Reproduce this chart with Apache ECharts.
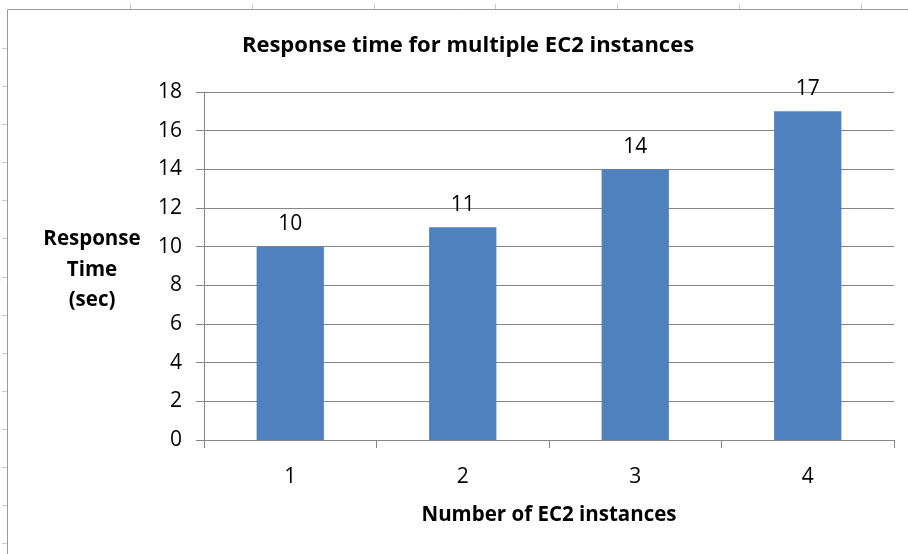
<!DOCTYPE html>
<html>
<head>
<meta charset="utf-8">
<script src="https://cdn.jsdelivr.net/npm/echarts@6/dist/echarts.min.js"></script>
<style>html,body{margin:0;padding:0;background:#fff}#c{width:908px;height:554px}</style>
</head>
<body>
<div id="c"></div>
<script>
var categories = ['1', '2', '3', '4'];
var responseTimes = [10, 11, 14, 17];
var yTicks = [0, 2, 4, 6, 8, 10, 12, 14, 16, 18];

var FONT = '"Open Sans", Lato, sans-serif';
var chart = echarts.init(document.getElementById('c'), null, {renderer: 'canvas'});

var frame = [];
frame.push({type: 'line', shape: {x1: 7.5, y1: 9.5, x2: 908, y2: 9.5}, style: {stroke: '#9a9a9a', lineWidth: 1}, silent: true});
frame.push({type: 'line', shape: {x1: 7.5, y1: 9.5, x2: 7.5, y2: 554}, style: {stroke: '#9a9a9a', lineWidth: 1}, silent: true});
[130, 252, 374, 495, 617, 739, 861].forEach(function (x) {
  frame.push({type: 'line', shape: {x1: x + 0.5, y1: 4, x2: x + 0.5, y2: 9}, style: {stroke: '#c8c8c8', lineWidth: 1}, silent: true});
});
for (var y = 48; y < 554; y += 38.1) {
  frame.push({type: 'line', shape: {x1: 2, y1: Math.round(y) + 0.5, x2: 7, y2: Math.round(y) + 0.5}, style: {stroke: '#c8c8c8', lineWidth: 1}, silent: true});
}

chart.setOption({
  animation: false,
  backgroundColor: '#ffffff',
  title: {
    text: 'Response time for multiple EC2 instances',
    left: 463, top: 30, textAlign: 'center',
    textStyle: {fontFamily: FONT, fontSize: 22, fontWeight: 'bold', color: '#000'}
  },
  grid: {left: 204, right: 14, top: 92, bottom: 114},
  xAxis: {
    type: 'category',
    data: categories,
    name: 'Number of EC2 instances',
    nameLocation: 'middle',
    nameGap: 65,
    nameTextStyle: {fontFamily: FONT, fontSize: 20.5, fontWeight: 'bold', color: '#000'},
    axisLine: {lineStyle: {color: '#868686', width: 1}},
    axisTick: {show: true, length: 8, lineStyle: {color: '#868686'}},
    axisLabel: {fontFamily: FONT, fontSize: 21, color: '#000', margin: 27}
  },
  yAxis: {
    type: 'value',
    min: 0, max: 18, interval: 2,
    axisLine: {show: true, lineStyle: {color: '#868686', width: 1}},
    axisTick: {show: true, length: 8, lineStyle: {color: '#868686'}},
    splitLine: {show: true, lineStyle: {color: '#868686', width: 1}},
    axisLabel: {
      fontFamily: FONT, fontSize: 21, color: '#000', margin: 22,
      formatter: function (v) { return yTicks.indexOf(v) >= 0 ? String(v) : ''; }
    }
  },
  graphic: frame.concat([{
    type: 'text', left: 92 - 60, top: 224,
    style: {
      text: 'Response\nTime\n(sec)', width: 120, textAlign: 'center',
      font: 'bold 20.5px ' + FONT, lineHeight: 30.5, fill: '#000', align: 'center'
    }
  }]),
  series: [{
    type: 'bar',
    data: responseTimes,
    barWidth: '39%',
    itemStyle: {color: '#4F81BD'},
    label: {show: true, position: 'top', distance: 12, fontFamily: FONT, fontSize: 21, color: '#000'}
  }]
});
</script>
</body>
</html>
